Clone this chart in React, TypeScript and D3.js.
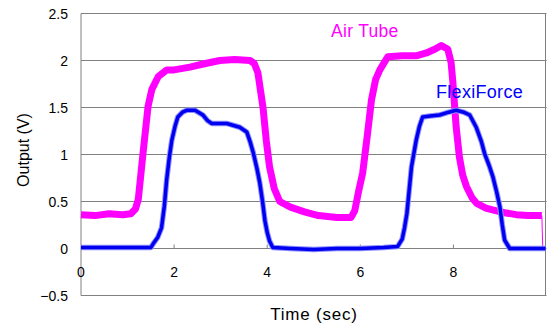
import React, { useEffect, useRef } from 'react';
import * as d3 from 'd3';

// time (sec), output (V)
const airTube: [number, number][] = [
  [0, 0.36], [0.3, 0.35], [0.6, 0.37], [0.9, 0.36], [1.07, 0.37], [1.17, 0.42],
  [1.23, 0.52], [1.34, 1.05], [1.44, 1.51], [1.52, 1.69], [1.66, 1.83], [1.84, 1.9],
  [2.0, 1.9], [2.34, 1.93], [2.6, 1.96], [2.98, 2.0], [3.3, 2.01], [3.63, 2.0],
  [3.72, 1.97], [3.8, 1.87], [3.91, 1.5], [3.98, 1.15], [4.05, 0.87], [4.15, 0.64],
  [4.27, 0.5], [4.5, 0.44], [4.8, 0.39], [5.1, 0.35], [5.5, 0.33], [5.8, 0.33],
  [5.88, 0.4], [5.96, 0.6], [6.05, 0.8], [6.15, 1.2], [6.24, 1.58], [6.33, 1.8],
  [6.42, 1.9], [6.59, 2.04], [6.9, 2.05], [7.2, 2.05], [7.42, 2.08], [7.6, 2.12],
  [7.74, 2.16], [7.88, 2.12], [7.95, 1.98], [7.99, 1.76], [8.06, 1.29], [8.13, 0.97],
  [8.2, 0.78], [8.28, 0.66], [8.4, 0.54], [8.5, 0.48], [8.7, 0.43], [8.84, 0.41],
  [9.1, 0.38], [9.35, 0.36], [9.6, 0.35], [9.9, 0.35], [9.92, 0],
];

const flexiForce: [number, number][] = [
  [0, 0.01], [0.5, 0.01], [1.0, 0.01], [1.5, 0.01], [1.55, 0.05], [1.65, 0.12],
  [1.73, 0.22], [1.79, 0.45], [1.84, 0.73], [1.9, 0.98], [1.95, 1.15], [2.02, 1.3],
  [2.08, 1.4], [2.18, 1.45], [2.27, 1.47], [2.45, 1.47], [2.62, 1.42], [2.72, 1.36],
  [2.81, 1.33], [3.13, 1.33], [3.41, 1.29], [3.56, 1.24], [3.63, 1.14], [3.7, 1.02],
  [3.78, 0.85], [3.84, 0.7], [3.9, 0.5], [3.95, 0.3], [4.0, 0.17], [4.05, 0.08],
  [4.12, 0.01], [4.5, 0.0], [5.0, -0.01], [5.5, 0.0], [6.0, 0.0], [6.5, 0.01],
  [6.8, 0.02], [6.9, 0.1], [6.95, 0.22], [7.0, 0.37], [7.05, 0.62], [7.1, 0.87],
  [7.2, 1.15], [7.27, 1.3], [7.34, 1.4], [7.5, 1.41], [7.7, 1.42], [7.9, 1.45],
  [8.06, 1.47], [8.22, 1.45], [8.35, 1.42], [8.49, 1.29], [8.6, 1.14], [8.67, 1.01],
  [8.77, 0.88], [8.85, 0.76], [8.93, 0.6], [9.0, 0.44], [9.05, 0.25], [9.1, 0.09],
  [9.21, 0.0], [9.5, 0.0], [9.98, 0.0],
];

const xTicks = [0, 2, 4, 6, 8];
const yTicks = [-0.5, 0, 0.5, 1, 1.5, 2, 2.5];

const W = 547;
const H = 324;
const font = '"Liberation Sans", Arial, sans-serif';

const App = () => {
  const svgRef = useRef<SVGSVGElement>(null);

  useEffect(() => {
    document.body.style.margin = '0';
    const svg = d3.select(svgRef.current);
    svg.selectAll('*').remove();

    const x = d3.scaleLinear().domain([0, 10]).range([81, 546.5]);
    const y = d3.scaleLinear().domain([-0.5, 2.5]).range([295.5, 13.5]);

    svg.append('rect').attr('width', W).attr('height', H).attr('fill', '#fff');

    // gridlines
    svg.append('g')
      .selectAll('line')
      .data(yTicks)
      .join('line')
      .attr('x1', x(0))
      .attr('x2', x(10))
      .attr('y1', (d) => y(d))
      .attr('y2', (d) => y(d))
      .attr('stroke', '#808080')
      .attr('stroke-width', 1);

    // plot border left/right
    svg.append('line')
      .attr('x1', x(0)).attr('x2', x(0))
      .attr('y1', y(2.5)).attr('y2', y(-0.5))
      .attr('stroke', '#808080');
    svg.append('line')
      .attr('x1', x(10) - 1).attr('x2', x(10) - 1)
      .attr('y1', y(2.5)).attr('y2', y(-0.5))
      .attr('stroke', '#808080');

    // x ticks on the zero line
    svg.append('g')
      .selectAll('line')
      .data(xTicks.slice(1))
      .join('line')
      .attr('x1', (d) => x(d))
      .attr('x2', (d) => x(d))
      .attr('y1', y(0))
      .attr('y2', y(0) - 4)
      .attr('stroke', '#808080');

    const line = d3
      .line<[number, number]>()
      .x((d) => x(d[0]))
      .y((d) => y(d[1]));

    const airMain = airTube.slice(0, -1);
    const airTail = airTube.slice(-2);
    svg.append('path')
      .attr('d', line(airTail))
      .attr('fill', 'none')
      .attr('stroke', '#ff00ff')
      .attr('stroke-width', 1);
    svg.append('path')
      .attr('d', line(airMain))
      .attr('fill', 'none')
      .attr('stroke', '#ff00ff')
      .attr('stroke-width', 7)
      .attr('stroke-linejoin', 'round');

    svg.append('path')
      .attr('d', line(flexiForce))
      .attr('fill', 'none')
      .attr('stroke', '#9090ff')
      .attr('stroke-width', 5.5)
      .attr('stroke-linejoin', 'round');
    svg.append('path')
      .attr('d', line(flexiForce))
      .attr('fill', 'none')
      .attr('stroke', '#0000f0')
      .attr('stroke-width', 3.5)
      .attr('stroke-linejoin', 'round');

    // y tick labels
    svg.append('g')
      .selectAll('text')
      .data(yTicks)
      .join('text')
      .attr('x', 68)
      .attr('y', (d) => y(d) + 5)
      .attr('text-anchor', 'end')
      .attr('font-family', font)
      .attr('font-size', 14)
      .attr('fill', '#000')
      .text((d) => (d < 0 ? '\u2212' + Math.abs(d) : String(d)));

    // x tick labels
    svg.append('g')
      .selectAll('text')
      .data(xTicks)
      .join('text')
      .attr('x', (d) => x(d))
      .attr('y', y(0) + 28)
      .attr('text-anchor', 'middle')
      .attr('font-family', font)
      .attr('font-size', 14)
      .attr('fill', '#000')
      .text((d) => String(d));

    svg.append('text')
      .attr('transform', `translate(29,150) rotate(-90)`)
      .attr('text-anchor', 'middle')
      .attr('font-family', font)
      .attr('font-size', 16)
      .attr('fill', '#000')
      .text('Output  (V)');

    svg.append('text')
      .attr('x', 314)
      .attr('y', 320)
      .attr('text-anchor', 'middle')
      .attr('font-family', font)
      .attr('font-size', 17)
      .attr('letter-spacing', 0.8)
      .attr('fill', '#000')
      .text('Time (sec)');

    svg.append('text')
      .attr('x', 331)
      .attr('y', 37)
      .attr('font-family', font)
      .attr('font-size', 17.5)
      .attr('letter-spacing', 0.3)
      .attr('fill', '#ff00ff')
      .text('Air Tube');

    svg.append('text')
      .attr('x', 436)
      .attr('y', 98)
      .attr('font-family', font)
      .attr('font-size', 18)
      .attr('letter-spacing', 0.3)
      .attr('fill', '#0000ff')
      .text('FlexiForce');
  }, []);

  return (
    <svg
      ref={svgRef}
      width={W}
      height={H}
      style={{ display: 'block', position: 'absolute', left: 0, top: 0 }}
    />
  );
};

export default App;
